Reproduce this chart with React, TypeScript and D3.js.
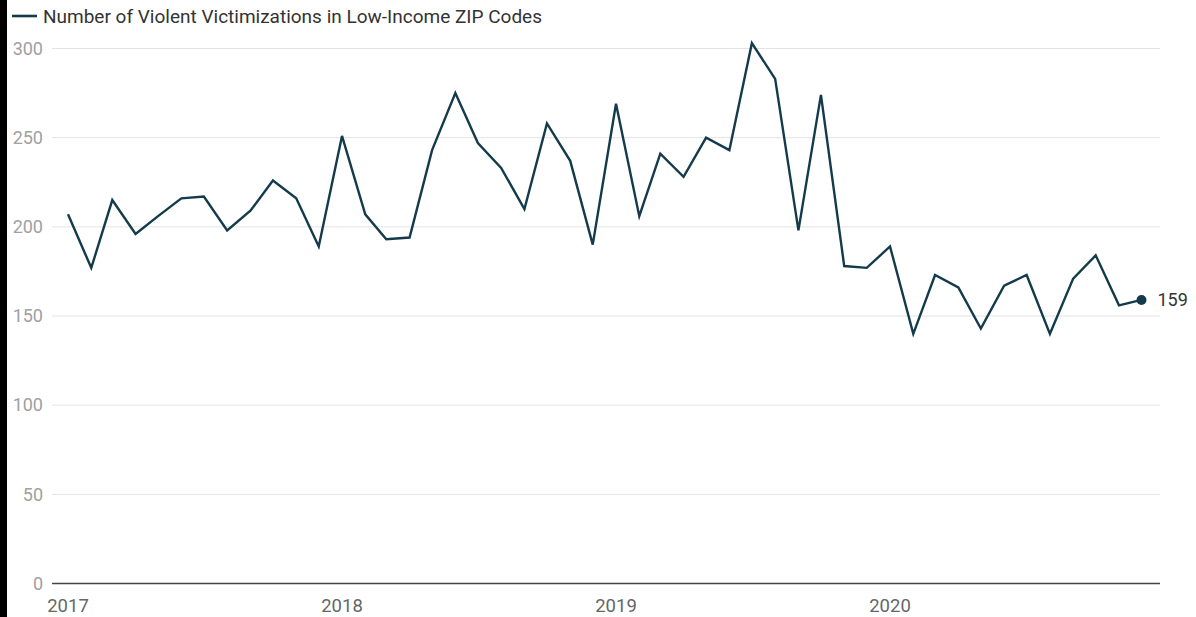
import React from "react";
import * as d3 from "d3";

const seriesName = "Number of Violent Victimizations in Low-Income ZIP Codes";
const startYear = 2017;
const values = [
  207, 177, 215, 196, 206, 216, 217, 198, 209, 226, 216, 189,
  251, 207, 193, 194, 243, 275, 247, 233, 210, 258, 237, 190,
  269, 206, 241, 228, 250, 243, 303, 283, 198, 274, 178, 177,
  189, 140, 173, 166, 143, 167, 173, 140, 171, 184, 156, 159,
];
const yTicks = [0, 50, 100, 150, 200, 250, 300];
const xTickYears = [2017, 2018, 2019, 2020];

const W = 1196;
const H = 617;
const FONT = "Roboto, 'Noto Sans', sans-serif";

export default function App() {
  const data = values.map((v, i) => ({ date: new Date(startYear, i, 1), v }));
  const x = d3
    .scaleTime()
    .domain([data[0].date, data[data.length - 1].date])
    .range([68, 1141.5]);
  const y = d3.scaleLinear().domain([0, 300]).range([583.5, 48.5]);
  const line = d3
    .line<{ date: Date; v: number }>()
    .x((d) => x(d.date))
    .y((d) => y(d.v));
  const last = data[data.length - 1];
  const lineColor = "#143b4c";

  return (
    <div style={{ position: "fixed", left: 0, top: 0, width: W, height: H, background: "#fff" }}>
      <svg width={W} height={H} style={{ display: "block" }}>
        <rect x={0} y={0} width={W} height={H} fill="#fff" />
        {yTicks.map((t) =>
          t === 0 ? null : (
            <line key={t} x1={52} x2={1160} y1={y(t)} y2={y(t)} stroke="#e3e3e3" strokeWidth={1} />
          )
        )}
        {yTicks.map((t) => (
          <text
            key={"l" + t}
            x={43}
            y={y(t)}
            dy="0.35em"
            textAnchor="end"
            fontFamily={FONT}
            fontSize={18}
            fill="#a0a0a0"
          >
            {t}
          </text>
        ))}
        <line x1={52} x2={1160} y1={y(0)} y2={y(0)} stroke="#444" strokeWidth={1.6} />
        {xTickYears.map((yr) => (
          <text
            key={yr}
            x={x(new Date(yr, 0, 1))}
            y={612}
            textAnchor="middle"
            fontFamily={FONT}
            fontSize={18.5}
            fill="#666"
          >
            {yr}
          </text>
        ))}
        <path d={line(data) || ""} fill="none" stroke={lineColor} strokeWidth={2.4} strokeLinejoin="miter" />
        <circle cx={x(last.date)} cy={y(last.v)} r={5} fill={lineColor} />
        <text
          x={x(last.date) + 16}
          y={y(last.v)}
          dy="0.35em"
          fontFamily={FONT}
          fontSize={18}
          fill="#333"
        >
          {last.v}
        </text>
        <line x1={12} x2={37} y1={16} y2={16} stroke={lineColor} strokeWidth={2.6} />
        <text x={43} y={16} dy="0.35em" fontFamily={FONT} fontSize={19} fill="#333">
          {seriesName}
        </text>
        <rect x={0} y={0} width={7} height={H} fill="#000" />
      </svg>
    </div>
  );
}
